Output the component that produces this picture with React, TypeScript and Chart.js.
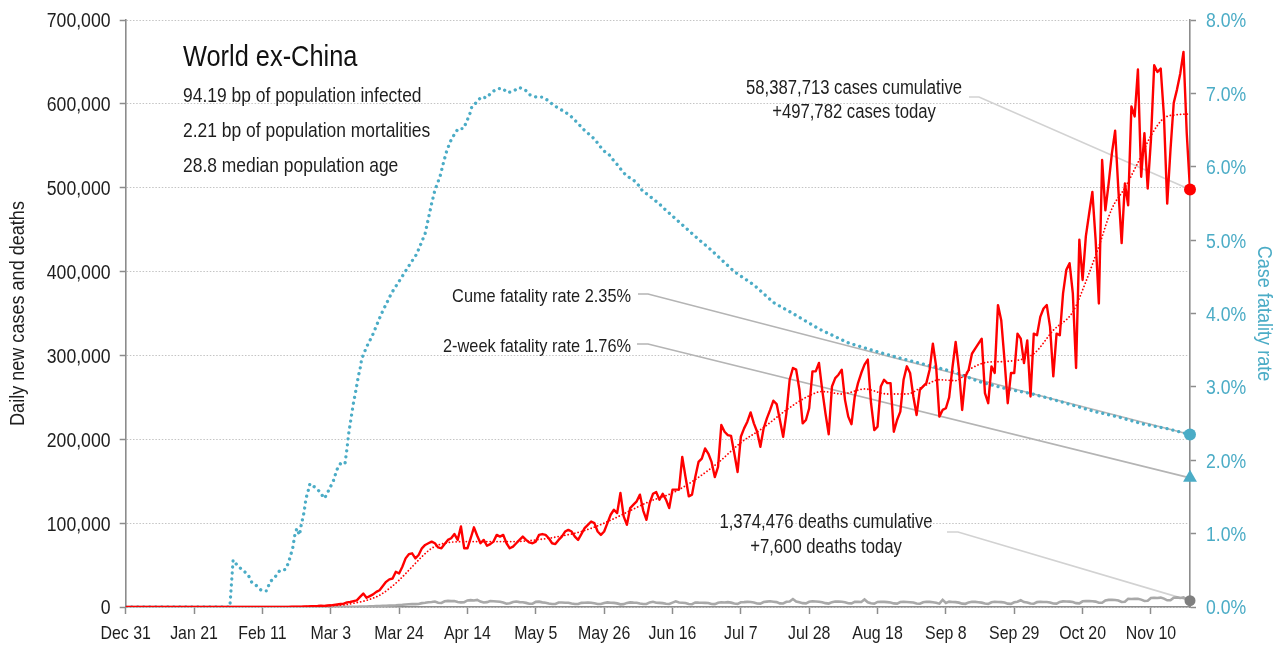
import React, { useEffect, useRef } from "react";
import { Chart, registerables } from "chart.js";

Chart.register(...registerables);

const FONT_FAMILY = "'Liberation Sans', Arial, sans-serif";
const SX = 0.86; // horizontal squeeze to mimic a condensed face
const TEXT = "#1e1e1e";
const BLUE = "#4bacc6";
const RED = "#ff0000";
const GREY = "#a9a9a9";
const AXIS = "#8c8c8c";

const LAST_DAY = 327;

const tickDays = [0, 21, 42, 63, 84, 105, 126, 147, 168, 189, 210, 231, 252, 273, 294, 315];
const tickLabels = ["Dec 31", "Jan 21", "Feb 11", "Mar 3", "Mar 24", "Apr 14", "May 5", "May 26", "Jun 16", "Jul 7", "Jul 28", "Aug 18", "Sep 8", "Sep 29", "Oct 20", "Nov 10"];
const leftTicks = [0, 100000, 200000, 300000, 400000, 500000, 600000, 700000];
const rightTicks = [0, 1, 2, 3, 4, 5, 6, 7, 8];

// daily new cases, thousands, day 0 = Dec 31
const newCasesK = [
  0, 0, 0, 0, 0, 0, 0, 0, 0, 0,
  0, 0, 0, 0, 0, 0, 0, 0, 0, 0,
  0.005, 0.01, 0.01, 0.02, 0.02, 0.03, 0.02, 0.03, 0.03, 0.02,
  0.02, 0.03, 0.02, 0.02, 0.01, 0.02, 0.03, 0.05, 0.03, 0.01,
  0.02, 0.01, 0.06, 0.07, 0.1, 0.08, 0.1, 0.06, 0.1, 0.07,
  0.2, 0.25, 0.3, 0.4, 0.45, 0.55, 0.6, 0.9, 1.0, 1.2,
  1.5, 1.4, 1.8, 2, 2.5, 3, 3.5, 4, 5.5, 6,
  7, 8, 12, 16, 11, 13, 15, 18, 20, 25,
  30, 33, 34, 42, 40, 48, 58, 63, 64, 58,
  62, 70, 74, 76, 78, 76, 71, 70, 75, 80,
  82, 87, 80, 96, 70, 70, 82, 95, 85, 76,
  80, 73, 75, 78, 86, 84, 86, 76, 70, 72,
  76, 80, 84, 80, 77, 76, 78, 86, 87, 86,
  82, 76, 75, 80, 84, 90, 92, 90, 84, 80,
  87, 94, 98, 102, 100, 90, 86, 90, 100, 110,
  116, 112, 136, 108, 98, 118, 122, 126, 134, 115,
  104, 124, 135, 137, 128, 135, 128, 118, 140, 140,
  140, 179, 155, 132, 134, 155, 173, 177, 189, 183,
  173, 155, 167, 217, 209, 205, 204, 183, 161, 203,
  213, 221, 232, 219, 209, 191, 213, 225, 235, 246,
  242, 223, 203, 231, 271, 285, 283, 259, 219, 223,
  237, 281, 281, 291, 259, 231, 206, 263, 273, 277,
  283, 247, 227, 218, 251, 267, 279, 289, 295, 243,
  211, 215, 263, 271, 267, 267, 209, 223, 233, 271,
  287, 279, 251, 229, 259, 263, 267, 283, 314, 287,
  227, 235, 237, 250, 285, 316, 283, 235, 275, 283,
  302, 308, 314, 320, 255, 243, 287, 279, 360, 342,
  295, 243, 279, 279, 326, 320, 291, 318, 251, 326,
  324, 346, 356, 360, 334, 275, 326, 324, 374, 402,
  410, 374, 285, 438, 390, 442, 469, 495, 438, 362,
  533, 473, 505, 541, 568, 497, 434, 505, 479, 597,
  585, 641, 513, 565, 499, 557, 646, 638, 642, 585,
  481, 545, 601, 617, 636, 662, 565, 497.782,
];

// daily new deaths, thousands
const newDeathsK = [
  0, 0, 0, 0, 0, 0, 0, 0, 0, 0,
  0, 0, 0, 0, 0, 0, 0, 0, 0, 0,
  0, 0, 0, 0, 0, 0, 0, 0, 0, 0,
  0, 0, 0, 0, 0, 0, 0, 0, 0, 0,
  0, 0, 0, 0, 0, 0, 0, 0, 0, 0,
  0.01, 0.01, 0.01, 0.02, 0.02, 0.02, 0.03, 0.03, 0.04, 0.05, 0.05, 0.06, 0.07,
  0.08, 0.1, 0.12, 0.15, 0.18, 0.2, 0.25,
  0.3, 0.35, 0.45, 0.5, 0.6, 0.75, 0.85,
  1.0, 1.1, 1.3, 1.5, 1.7, 1.8, 2.0,
  2.4, 2.6, 3.0, 3.3, 3.6, 3.4, 3.5,
  4.6, 5.0, 5.6, 5.9, 6.5, 5.0, 4.8,
  6.8, 7.3, 7.0, 7.2, 6.0, 5.5, 5.8,
  7.8, 8.2, 7.8, 8.5, 6.5, 5.4, 5.8,
  7.2, 6.9, 6.6, 6.2, 5.3, 3.9, 4.5,
  6.0, 6.5, 5.8, 5.6, 4.9, 3.8, 4.0,
  6.1, 6.4, 5.5, 5.0, 4.2, 3.5, 3.6,
  5.4, 5.3, 5.1, 5.0, 4.2, 3.5, 3.5,
  4.9, 5.0, 5.2, 5.1, 4.4, 3.6, 3.5,
  4.8, 5.5, 5.0, 4.9, 4.3, 3.2, 3.4,
  4.9, 5.5, 5.2, 5.0, 4.2, 3.5, 3.6,
  5.5, 6.2, 5.1, 4.9, 4.6, 3.8, 3.6,
  5.2, 6.7, 5.3, 5.1, 4.8, 3.6, 3.3,
  5.4, 5.2, 5.1, 4.9, 4.7, 3.5, 3.4,
  5.1, 5.6, 5.3, 5.8, 5.2, 4.1, 3.8,
  5.6, 5.8, 6.1, 5.9, 5.4, 4.2, 4.0,
  5.9, 6.4, 6.8, 6.3, 5.8, 4.3, 4.2,
  6.2, 6.6, 9.5, 6.6, 5.6, 4.6, 4.4,
  6.3, 6.8, 6.5, 6.2, 5.7, 4.6, 4.1,
  5.8, 6.5, 6.4, 6.2, 5.7, 4.4, 4.3,
  6.1, 6.2, 6.0, 9.0, 5.7, 4.5, 4.0,
  6.0, 6.3, 6.1, 5.8, 5.4, 4.3, 4.1,
  5.9, 6.2, 6.0, 5.7, 5.3, 4.1, 3.9,
  5.6, 6.3, 6.1, 5.6, 5.0, 4.0, 8.5,
  4.8, 6.4, 6.0, 5.8, 5.2, 4.0, 3.8,
  5.5, 6.3, 6.1, 5.7, 5.2, 4.1, 3.8,
  5.6, 6.3, 5.9, 5.8, 5.4, 4.0, 3.7,
  5.6, 6.2, 8.0, 5.9, 5.3, 4.2, 3.9,
  5.8, 6.3, 6.0, 5.9, 5.4, 4.1, 4.0,
  6.0, 6.7, 6.6, 6.4, 5.9, 4.6, 4.4,
  6.8, 7.1, 7.0, 6.8, 6.4, 5.0, 5.0,
  7.8, 8.5, 8.5, 8.3, 7.7, 6.0, 6.2,
  9.8, 9.5, 9.7, 9.9, 8.8, 7.2, 7.5,
  10.8, 11.0, 10.8, 11.2, 10.0, 8.0, 8.0,
  11.0, 11.5, 10.8, 11.5, 9.0, 7.6,
];

// 7-day average of new cases, thousands
const avgDays = [0, 50, 56, 63, 67, 70, 74, 78, 81, 84, 88, 91, 94, 98, 105, 112, 119, 126, 133, 140, 147, 154, 161, 168, 175, 182, 189, 196, 203, 210, 214, 220, 227, 234, 240, 245, 250, 255, 260, 265, 271, 279, 285, 291, 295, 299, 303, 307, 311, 315, 319, 323, 327];
const avgCasesK = [0, 0.1, 0.5, 1.5, 2.5, 4.5, 8, 14, 22, 32, 48, 60, 70, 76, 78, 78, 78, 80, 84, 90, 100, 113, 126, 136, 152, 172, 196, 214, 235, 252, 257, 254, 260, 254, 254, 263, 271, 270, 285, 292, 293, 302, 330, 352, 388, 430, 475, 500, 530, 562, 583, 587, 588];

// case fatality rate, percent
const cfrDays = [0, 32, 33, 34.6, 36.1, 37.7, 38.7, 40.2, 41.8, 43.3, 44.3, 45.9, 47.4, 49, 50, 50.7, 51.3, 52, 52.6, 53.4, 53.8, 54.3, 54.8, 55.4, 56.1, 56.6, 58.2, 59.9, 60.9, 61.8, 62.6, 63.6, 64.3, 65, 66.2, 67.4, 68, 68.5, 69.2, 69.9, 70.8, 71.5, 72, 72.5, 73.5, 74.5, 75.6, 78.6, 81.7, 84.3, 87.3, 89.4, 92, 94, 95, 96.6, 97.6, 98.6, 99.7, 101.2, 102.2, 103.8, 104.8, 105.8, 106.3, 107.6, 109.2, 110.9, 112.3, 114, 115.7, 117.3, 119.1, 120.9, 122.7, 124.2, 126.1, 128, 129.9, 131.4, 132.9, 134.8, 136.5, 138.1, 139.6, 141.1, 142.7, 144.2, 145.7, 146.8, 148.6, 149.8, 151.4, 152.7, 154.1, 156, 157.5, 158.8, 160.4, 162.1, 163.8, 165.2, 170, 175, 180, 187, 193, 199, 205, 213, 222, 230, 238, 246, 254, 263, 271, 278, 284, 291, 298, 305, 312, 320, 327];
const cfrPct = [0, 0, 0.64, 0.55, 0.5, 0.43, 0.34, 0.29, 0.22, 0.22, 0.34, 0.41, 0.5, 0.51, 0.6, 0.71, 0.8, 0.99, 1.07, 0.98, 1.09, 1.19, 1.29, 1.48, 1.59, 1.68, 1.63, 1.56, 1.48, 1.53, 1.62, 1.69, 1.79, 1.88, 1.97, 1.96, 2.16, 2.36, 2.56, 2.76, 2.97, 3.15, 3.24, 3.38, 3.49, 3.59, 3.68, 4.0, 4.28, 4.46, 4.67, 4.81, 5.09, 5.5, 5.68, 5.87, 6.05, 6.21, 6.34, 6.46, 6.52, 6.52, 6.62, 6.73, 6.81, 6.87, 6.95, 6.94, 7.01, 7.06, 7.07, 7.01, 7.03, 7.08, 7.05, 6.98, 6.95, 6.95, 6.9, 6.84, 6.8, 6.75, 6.7, 6.63, 6.56, 6.49, 6.43, 6.37, 6.28, 6.22, 6.16, 6.09, 6.01, 5.93, 5.87, 5.82, 5.75, 5.67, 5.62, 5.56, 5.5, 5.44, 5.25, 5.05, 4.86, 4.57, 4.39, 4.15, 4.0, 3.79, 3.6, 3.49, 3.39, 3.3, 3.21, 3.06, 2.97, 2.91, 2.84, 2.75, 2.66, 2.59, 2.5, 2.43, 2.35];

const lastCases = 497782;
const lastDeaths = 7600;
const lastCfr = 2.35;
const twoWeekCfr = 1.76;

const titleText = "World ex-China";
const subtitleLines = ["94.19 bp of population infected", "2.21 bp of population mortalities", "28.8 median population age"];
const casesNote = ["58,387,713 cases cumulative", "+497,782 cases today"];
const deathsNote = ["1,374,476 deaths cumulative", "+7,600 deaths today"];
const cumeNote = "Cume fatality rate 2.35%";
const twoWeekNote = "2-week fatality rate 1.76%";
const leftTitle = "Daily new cases and deaths";
const rightTitle = "Case fatality rate";

function txt(ctx: CanvasRenderingContext2D, s: string, x: number, y: number, size: number, align: CanvasTextAlign, color: string, baseline: CanvasTextBaseline = "alphabetic", rot = 0) {
  ctx.save();
  ctx.translate(x, y);
  if (rot) ctx.rotate(rot);
  ctx.scale(SX, 1);
  ctx.font = `${size}px ${FONT_FAMILY}`;
  ctx.textAlign = align;
  ctx.textBaseline = baseline;
  ctx.fillStyle = color;
  ctx.fillText(s, 0, 0);
  ctx.restore();
}

const annotations = {
  id: "annotations",
  beforeDatasetsDraw(chart: any) {
    const { ctx, scales } = chart;
    const xe = scales.x.getPixelForValue(LAST_DAY);
    const lead = (x0: number, y0: number, x1: number, x2: number, y2: number, color: string) => {
      ctx.save();
      ctx.strokeStyle = color;
      ctx.lineWidth = 1.6;
      ctx.beginPath();
      ctx.moveTo(x0, y0);
      ctx.lineTo(x1, y0);
      ctx.lineTo(x2, y2);
      ctx.stroke();
      ctx.restore();
    };
    lead(969, 97, 979, xe, scales.y.getPixelForValue(lastCases), "#d2d2d2");
    lead(638, 294, 648, xe, scales.y1.getPixelForValue(lastCfr), "#b4b4b4");
    lead(637, 344, 648, xe, scales.y1.getPixelForValue(twoWeekCfr), "#b4b4b4");
    lead(947, 532, 958, xe, scales.y.getPixelForValue(lastDeaths), "#d2d2d2");
  },
  afterDraw(chart: any) {
    const { ctx, scales, chartArea } = chart;
    // axis tick labels
    tickDays.forEach((d, i) => txt(ctx, tickLabels[i], scales.x.getPixelForValue(d), 638.5, 18.5, "center", TEXT));
    leftTicks.forEach((v) => txt(ctx, v.toLocaleString("en-US"), 110.5, scales.y.getPixelForValue(v) + 7.4, 20.5, "right", TEXT));
    rightTicks.forEach((v) => txt(ctx, v.toFixed(1) + "%", 1206, scales.y1.getPixelForValue(v) + 7.4, 20.5, "left", BLUE));
    const midY = (chartArea.top + chartArea.bottom) / 2;
    txt(ctx, leftTitle, 18, midY, 21, "center", TEXT, "middle", -Math.PI / 2);
    txt(ctx, rightTitle, 1264, midY, 21, "center", BLUE, "middle", Math.PI / 2);
    // title block
    txt(ctx, titleText, 183, 66, 29.5, "left", "#111");
    subtitleLines.forEach((t, i) => txt(ctx, t, 183, 102 + i * 34.8, 20.3, "left", TEXT));
    // notes
    txt(ctx, casesNote[0], 854, 93.5, 19.4, "center", TEXT);
    txt(ctx, casesNote[1], 854, 118.3, 19.4, "center", TEXT);
    txt(ctx, deathsNote[0], 826, 528, 19.4, "center", TEXT);
    txt(ctx, deathsNote[1], 826, 553, 19.4, "center", TEXT);
    txt(ctx, cumeNote, 631, 302.3, 19, "right", TEXT);
    txt(ctx, twoWeekNote, 631, 351.7, 19, "right", TEXT);
  },
};

export default function App() {
  const ref = useRef<HTMLCanvasElement>(null);
  useEffect(() => {
    if (!ref.current) return;
    const cases = newCasesK.map((v, i) => ({ x: i, y: v * 1000 }));
    const deaths = newDeathsK.map((v, i) => ({ x: i, y: v * 1000 }));
    const avg = avgDays.map((d, i) => ({ x: d, y: avgCasesK[i] * 1000 }));
    const cfr = cfrDays.map((d, i) => ({ x: d, y: cfrPct[i] }));
    const chart = new Chart(ref.current, {
      type: "line",
      data: {
        datasets: [
          { data: [{ x: LAST_DAY, y: lastCases }], yAxisID: "y", showLine: false, pointRadius: 6, pointBackgroundColor: RED, pointBorderWidth: 0, clip: false } as any,
          { data: [{ x: LAST_DAY, y: lastCfr }], yAxisID: "y1", showLine: false, pointRadius: 6, pointBackgroundColor: BLUE, pointBorderWidth: 0, clip: false } as any,
          { data: [{ x: LAST_DAY, y: twoWeekCfr }], yAxisID: "y1", showLine: false, pointRadius: 8, pointStyle: "triangle", pointBackgroundColor: BLUE, pointBorderWidth: 0, clip: false } as any,
          { data: [{ x: LAST_DAY, y: lastDeaths }], yAxisID: "y", showLine: false, pointRadius: 5.5, pointBackgroundColor: "#7f7f7f", pointBorderWidth: 0, clip: false } as any,
          { data: cases, yAxisID: "y", borderColor: RED, borderWidth: 2.4, pointRadius: 0, tension: 0, borderJoinStyle: "round" } as any,
          { data: avg, yAxisID: "y", borderColor: RED, borderWidth: 1.8, pointRadius: 0, borderDash: [0.01, 3.4], borderCapStyle: "round", cubicInterpolationMode: "monotone" } as any,
          { data: deaths, yAxisID: "y", borderColor: GREY, borderWidth: 2.6, pointRadius: 0, tension: 0 } as any,
          { data: cfr, yAxisID: "y1", borderColor: BLUE, borderWidth: 3.3, pointRadius: 0, borderDash: [0.01, 6], borderCapStyle: "round", tension: 0 } as any,
        ],
      },
      options: {
        responsive: false,
        animation: false,
        devicePixelRatio: 1,
        layout: { padding: { top: 20, left: 0, right: 0, bottom: 0 }, autoPadding: false } as any,
        plugins: { legend: { display: false }, tooltip: { enabled: false } },
        scales: {
          x: {
            type: "linear",
            min: 0,
            max: LAST_DAY,
            afterBuildTicks: (s: any) => { s.ticks = tickDays.map((v) => ({ value: v })); },
            afterFit: (s: any) => { s.height = 40; },
            ticks: { display: false },
            grid: { drawOnChartArea: false, drawTicks: true, tickLength: 7, tickColor: AXIS, tickWidth: 1.5 },
            border: { color: AXIS, width: 1.6 },
          },
          y: {
            position: "left",
            min: 0,
            max: 700000,
            afterBuildTicks: (s: any) => { s.ticks = leftTicks.map((v) => ({ value: v })); },
            afterFit: (s: any) => { s.width = 125.7; },
            ticks: { display: false },
            grid: { color: "#c4c4c4", lineWidth: 1, drawTicks: true, tickLength: 6, tickColor: AXIS, tickWidth: 1.5, tickBorderDash: [] },
            border: { color: AXIS, width: 1.6, dash: [1.5, 1.7] },
          },
          y1: {
            position: "right",
            min: 0,
            max: 8,
            afterBuildTicks: (s: any) => { s.ticks = rightTicks.map((v) => ({ value: v })); },
            afterFit: (s: any) => { s.width = 91; },
            ticks: { display: false },
            grid: { drawOnChartArea: false, drawTicks: true, tickLength: 6, tickColor: AXIS, tickWidth: 1.5 },
            border: { color: AXIS, width: 1.6 },
          },
        },
      } as any,
      plugins: [annotations],
    });
    return () => chart.destroy();
  }, []);
  return (
    <div style={{ position: "absolute", left: 0, top: 0, width: 1281, height: 647 }}>
      <canvas ref={ref} width={1281} height={647} style={{ display: "block" }} />
    </div>
  );
}
